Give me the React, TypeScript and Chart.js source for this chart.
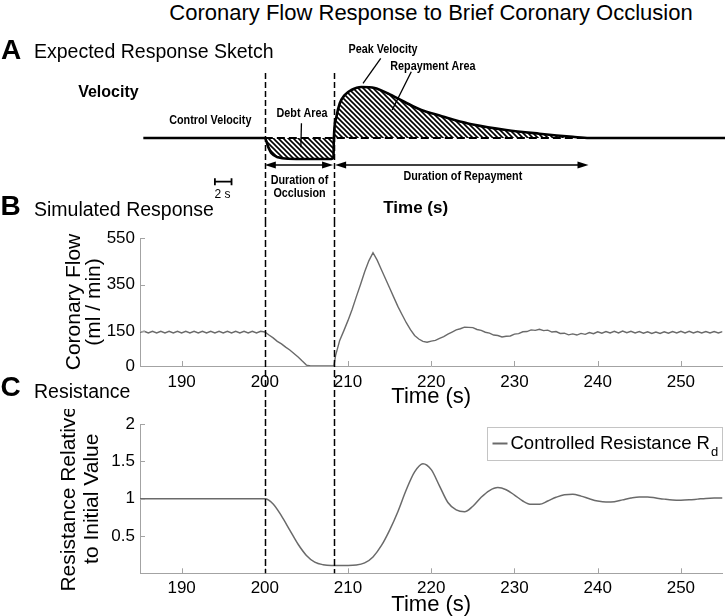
import React, { useEffect, useRef } from 'react';
import { Chart, registerables } from 'chart.js';

Chart.register(...registerables);

const FONT = "'Liberation Sans', Arial, Helvetica, sans-serif";
const AXIS_COLOR = '#a3a3a3';
const LINE_COLOR = '#6a6a6a';

// ---------- shared time axis ----------
const timeMin = 185;
const timeMax = 255;
const timeTicks = [190, 200, 210, 220, 230, 240, 250];
const occlusionTimes = [200, 208.3];

// ---------- panel A: expected response sketch ----------
const sketchTimes = [185.4, 200, 200.4, 200.8, 201.6, 202.8, 208.0, 208.25, 208.3, 208.6, 209.0, 209.6, 210.4, 211.6, 213.2, 214.8, 216.8, 218.8, 221.0, 222.8, 225.0, 229.0, 233.0, 237.0, 239.0, 255.3];
const sketchValues = [0, 0, -8.7, -15.3, -19.3, -20.7, -21, -18.7, 0, 21, 34.5, 43, 48, 51, 50, 44.5, 36, 28, 22.5, 18, 13.5, 8, 4.3, 1.2, 0, 0];
const controlBaselineSpan = [200, 239];
const occlusionSpan = [200, 208.2];
const repaymentSpan = [208.45, 238.9];
const scaleBarSpan = [194, 196];

// ---------- panel B: simulated coronary flow ----------
const flowTimes = [
  185, 185.5, 186, 186.5, 187, 187.5, 188, 188.5, 189, 189.5,
  190, 190.5, 191, 191.5, 192, 192.5, 193, 193.5, 194, 194.5,
  195, 195.5, 196, 196.5, 197, 197.5, 198, 198.5, 199, 199.5,
  200, 200.5, 201, 201.5, 202, 202.5, 203, 203.5, 204, 204.5,
  205, 205.5, 206, 206.5, 207, 207.5, 208, 208.3, 208.5, 209,
  209.5, 210, 210.5, 211, 211.5, 212, 212.5, 213, 213.5, 214,
  214.5, 215, 215.5, 216, 216.5, 217, 217.5, 218, 218.5, 219,
  219.5, 220, 220.5, 221, 221.5, 222, 222.5, 223, 223.5, 224,
  224.5, 225, 225.5, 226, 226.5, 227, 227.5, 228, 228.5, 229,
  229.5, 230, 230.5, 231, 231.5, 232, 232.5, 233, 233.5, 234,
  234.5, 235, 235.5, 236, 236.5, 237, 237.5, 238, 238.5, 239,
  239.5, 240, 240.5, 241, 241.5, 242, 242.5, 243, 243.5, 244,
  244.5, 245, 245.5, 246, 246.5, 247, 247.5, 248, 248.5, 249,
  249.5, 250, 250.5, 251, 251.5, 252, 252.5, 253, 253.5, 254,
  254.5, 255
];
const flowValues = [
  145, 149, 142, 149, 142, 149, 142, 149, 142, 149,
  142, 149, 142, 149, 142, 149, 142, 149, 142, 149,
  142, 149, 142, 149, 142, 149, 142, 149, 142, 149,
  146, 133, 121, 106, 95, 81, 69, 54, 39, 21,
  4, 0, 0, 0, 0, 0, 0, 0, 45, 110,
  152, 196, 244, 298, 350, 405, 452, 487, 455, 415,
  375, 335, 295, 255, 220, 186, 156, 131, 116, 106,
  102, 107, 110, 119, 126, 137, 146, 155, 160, 167,
  166, 165, 157, 153, 145, 141, 133, 131, 125, 128,
  129, 137, 139, 147, 148, 155, 153, 158, 152, 154,
  146, 148, 140, 141, 134, 138, 133, 140, 136, 144,
  139, 147, 141, 148, 142, 149, 142, 150, 143, 149,
  142, 148, 141, 147, 140, 146, 140, 147, 141, 148,
  142, 149, 142, 149, 142, 148, 142, 148, 142, 148,
  142, 148
];
const flowTicks = [0, 150, 350, 550];
const flowMax = 550;

// ---------- panel C: controlled resistance ----------
const resTimes = [
  185, 186, 187, 188, 189, 190, 191, 192, 193, 194,
  195, 196, 197, 198, 199, 200, 201, 202, 203, 204,
  205, 206, 207, 208, 209, 210, 211, 212, 213, 214,
  215, 216, 217, 218, 219, 220, 221, 222, 223, 224,
  225, 226, 227, 228, 229, 230, 231, 232, 233, 234,
  235, 236, 237, 238, 239, 240, 241, 242, 243, 244,
  245, 246, 247, 248, 249, 250, 251, 252, 253, 254,
  255
];
const resValues = [
  1, 1, 1, 1, 1, 1, 1, 1, 1, 1,
  1, 1, 1, 1, 1, 1, 0.93, 0.77, 0.58, 0.39,
  0.24, 0.15, 0.115, 0.105, 0.105, 0.105, 0.11, 0.14, 0.22, 0.37,
  0.58, 0.83, 1.12, 1.36, 1.47, 1.39, 1.17, 0.95, 0.85, 0.825,
  0.9, 1.02, 1.11, 1.15, 1.12, 1.05, 0.97, 0.925, 0.925, 0.97,
  1.02, 1.055, 1.06, 1.035, 1.0, 0.97, 0.955, 0.96, 0.985, 1.01,
  1.025, 1.025, 1.01, 0.995, 0.983, 0.98, 0.985, 0.995, 1.005, 1.01,
  1.01
];
const resTicks = [0.5, 1, 1.5, 2];
const resMax = 2;
const legendLabel = 'Controlled Resistance R';
const legendSubscript = 'd';

// ---------- sketch annotations (data units of the sketch) ----------
const sketchDashTop = 65;
const arrowLevel = -27;
const scaleBarLevel = -43.7;
type SketchLabel = { text: string; t: number; v: number; size: number; weight: string; sx: number };
const sketchLabels: SketchLabel[] = [
  { text: 'Velocity', t: 181.2, v: 45.5, size: 16, weight: 'bold', sx: 1 },
  { text: 'Control Velocity', t: 193.45, v: 18, size: 13.5, weight: 'bold', sx: 0.8 },
  { text: 'Debt Area', t: 204.47, v: 25, size: 13.5, weight: 'bold', sx: 0.8 },
  { text: 'Peak Velocity', t: 214.2, v: 88.8, size: 13.5, weight: 'bold', sx: 0.8 },
  { text: 'Repayment Area', t: 220.2, v: 72.2, size: 13.5, weight: 'bold', sx: 0.8 },
  { text: 'Duration of', t: 204.17, v: -42.5, size: 13.5, weight: 'bold', sx: 0.8 },
  { text: 'Occlusion', t: 204.17, v: -55.5, size: 13.5, weight: 'bold', sx: 0.8 },
  { text: 'Duration of Repayment', t: 223.8, v: -38, size: 13.5, weight: 'bold', sx: 0.8 },
  { text: 'Time (s)', t: 218.13, v: -70, size: 17, weight: 'bold', sx: 1 },
  { text: '2 s', t: 194.9, v: -57, size: 12, weight: 'normal', sx: 1 },
];
const sketchPointers = [
  { from: [204.4, 14.7], to: [204.33, -9.3] },
  { from: [213.93, 79.7], to: [211.8, 54.7] },
  { from: [217.6, 66.3], to: [215.3, 28] },
];

function makeHatch(): CanvasPattern | string {
  const c = document.createElement('canvas');
  c.width = 5;
  c.height = 5;
  const g = c.getContext('2d');
  if (!g) return '#555';
  g.strokeStyle = '#000';
  g.lineWidth = 1.6;
  g.beginPath();
  g.moveTo(-1, -1); g.lineTo(6, 6);
  g.moveTo(-1, 4); g.lineTo(1, 6);
  g.moveTo(4, -1); g.lineTo(6, 1);
  g.stroke();
  return g.createPattern(c, 'repeat') || '#555';
}

function arrowHead(ctx: CanvasRenderingContext2D, x: number, y: number, dir: number) {
  ctx.beginPath();
  ctx.moveTo(x, y);
  ctx.lineTo(x - dir * 11, y - 3.5);
  ctx.lineTo(x - dir * 11, y + 3.5);
  ctx.closePath();
  ctx.fill();
}

const sketchPlugin = {
  id: 'sketchAnnotations',
  afterDraw(chart: any) {
    const { ctx, scales } = chart;
    const px = (t: number) => scales.x.getPixelForValue(t);
    const py = (v: number) => scales.y.getPixelForValue(v);
    ctx.save();
    ctx.strokeStyle = '#000';
    ctx.fillStyle = '#000';
    // occlusion guides
    ctx.setLineDash([6, 3]);
    ctx.lineWidth = 1.5;
    occlusionTimes.forEach((t) => {
      const x = Math.round(px(t)) + 0.5;
      ctx.beginPath();
      ctx.moveTo(x, py(sketchDashTop));
      ctx.lineTo(x, chart.height);
      ctx.stroke();
    });
    ctx.setLineDash([]);
    // duration arrows
    ctx.lineWidth = 1.5;
    [occlusionSpan, repaymentSpan].forEach(([a, b]) => {
      const y = py(arrowLevel);
      const x1 = px(a);
      const x2 = px(b);
      ctx.beginPath();
      ctx.moveTo(x1 + 5, y);
      ctx.lineTo(x2 - 5, y);
      ctx.stroke();
      arrowHead(ctx, x1, y, -1);
      arrowHead(ctx, x2, y, 1);
    });
    // pointers
    ctx.lineWidth = 1.3;
    sketchPointers.forEach((p) => {
      ctx.beginPath();
      ctx.moveTo(px(p.from[0]), py(p.from[1]));
      ctx.lineTo(px(p.to[0]), py(p.to[1]));
      ctx.stroke();
    });
    // scale bar
    {
      const y = py(scaleBarLevel);
      const x1 = px(scaleBarSpan[0]);
      const x2 = px(scaleBarSpan[1]);
      ctx.lineWidth = 1.8;
      ctx.beginPath();
      ctx.moveTo(x1, y); ctx.lineTo(x2, y);
      ctx.moveTo(x1, y - 3.5); ctx.lineTo(x1, y + 3.5);
      ctx.moveTo(x2, y - 3.5); ctx.lineTo(x2, y + 3.5);
      ctx.stroke();
    }
    // labels
    sketchLabels.forEach((l) => {
      ctx.save();
      ctx.font = `${l.weight} ${l.size}px ${FONT}`;
      ctx.translate(px(l.t), py(l.v));
      ctx.scale(l.sx, 1);
      ctx.textAlign = 'center';
      ctx.textBaseline = 'middle';
      ctx.fillText(l.text, 0, 0);
      ctx.restore();
    });
    ctx.restore();
  },
};

function makeGuidePlugin(stopAtChartBottom: boolean) {
  return {
    id: 'guides',
    afterDraw(chart: any) {
      const { ctx, chartArea, scales } = chart;
      const { x, y } = scales;
      ctx.save();
      // inward tick marks
      ctx.strokeStyle = AXIS_COLOR;
      ctx.lineWidth = 1;
      x.ticks.forEach((tk: any) => {
        const p = Math.round(x.getPixelForValue(tk.value)) + 0.5;
        ctx.beginPath();
        ctx.moveTo(p, chartArea.bottom);
        ctx.lineTo(p, chartArea.bottom - 5);
        ctx.stroke();
      });
      y.ticks.forEach((tk: any) => {
        const p = Math.round(y.getPixelForValue(tk.value)) + 0.5;
        ctx.beginPath();
        ctx.moveTo(chartArea.left, p);
        ctx.lineTo(chartArea.left + 5, p);
        ctx.stroke();
      });
      // occlusion guides
      ctx.strokeStyle = '#000';
      ctx.lineWidth = 1.5;
      ctx.setLineDash([7, 3]);
      occlusionTimes.forEach((t) => {
        const p = Math.round(x.getPixelForValue(t)) + 0.5;
        ctx.beginPath();
        ctx.moveTo(p, 0);
        ctx.lineTo(p, stopAtChartBottom ? chartArea.bottom : chart.height);
        ctx.stroke();
      });
      ctx.restore();
    },
  };
}

const legendPlugin = {
  id: 'resLegend',
  afterDraw(chart: any) {
    const { ctx, chartArea } = chart;
    const ds = chart.data.datasets[0];
    const w = 235;
    const h = 33;
    const right = chartArea.right - 0.5;
    const left = Math.round(right - w) + 0.5;
    const top = Math.round(chartArea.top + 3) + 0.5;
    ctx.save();
    ctx.fillStyle = '#fff';
    ctx.fillRect(left, top, w, h);
    ctx.strokeStyle = '#c4c4c4';
    ctx.lineWidth = 1;
    ctx.strokeRect(left, top, w, h);
    ctx.strokeStyle = ds.borderColor;
    ctx.lineWidth = 2;
    ctx.beginPath();
    ctx.moveTo(left + 5, top + 16);
    ctx.lineTo(left + 20, top + 16);
    ctx.stroke();
    ctx.fillStyle = '#000';
    ctx.textBaseline = 'alphabetic';
    ctx.textAlign = 'left';
    ctx.font = `18.5px ${FONT}`;
    ctx.fillText(ds.label, left + 23, top + 21.5);
    const tw = ctx.measureText(ds.label).width;
    ctx.font = `13px ${FONT}`;
    ctx.fillText(legendSubscript, left + 24 + tw, top + 28.5);
    ctx.restore();
  },
};

function xScale(labelPadding: number, height: number) {
  return {
    type: 'linear',
    position: 'bottom',
    min: timeMin,
    max: timeMax,
    afterBuildTicks: (s: any) => { s.ticks = timeTicks.map((v) => ({ value: v })); },
    afterFit: (s: any) => { s.height = height; },
    grid: { display: false, drawTicks: false },
    border: { display: true, color: AXIS_COLOR, width: 1 },
    ticks: { color: '#000', font: { size: 17, family: FONT }, padding: labelPadding, maxRotation: 0, autoSkip: false, callback: (v: any) => String(v) },
    title: { display: true, text: 'Time (s)', color: '#000', font: { size: 22, family: FONT, lineHeight: 1 }, padding: 0 },
  };
}

function yScale(max: number, ticks: number[], title: string[], titlePad: number, titleLH: number) {
  return {
    type: 'linear',
    min: 0,
    max,
    afterBuildTicks: (s: any) => { s.ticks = ticks.map((v) => ({ value: v })); },
    afterFit: (s: any) => { s.width = 140; },
    grid: { display: false, drawTicks: false },
    border: { display: true, color: AXIS_COLOR, width: 1 },
    ticks: { color: '#000', font: { size: 17, family: FONT }, padding: 5, callback: (v: any) => String(v) },
    title: { display: true, text: title, color: '#000', font: { size: 21, family: FONT, lineHeight: titleLH }, padding: { top: titlePad, bottom: 0 } },
  };
}

const baseOptions = {
  animation: false,
  responsive: false,
  maintainAspectRatio: false,
  events: [],
  plugins: { legend: { display: false }, tooltip: { enabled: false } },
};

export default function App() {
  const aRef = useRef<HTMLCanvasElement>(null);
  const bRef = useRef<HTMLCanvasElement>(null);
  const cRef = useRef<HTMLCanvasElement>(null);

  useEffect(() => {
    const charts: Chart[] = [];
    const hatch = makeHatch();

    if (aRef.current) {
      charts.push(new Chart(aRef.current, {
        type: 'line',
        data: {
          datasets: [
            {
              label: 'Control level',
              data: controlBaselineSpan.map((t) => ({ x: t, y: 0 })),
              borderColor: '#000',
              borderWidth: 2.2,
              borderDash: [8, 4],
              pointRadius: 0,
              fill: false,
            },
            {
              label: 'Velocity',
              data: sketchTimes.map((t, i) => ({ x: t, y: sketchValues[i] })),
              borderColor: '#000',
              borderWidth: 2.6,
              pointRadius: 0,
              cubicInterpolationMode: 'monotone',
              clip: false,
              fill: { target: { value: 0 }, above: hatch, below: hatch },
            },
          ],
        },
        options: {
          ...baseOptions,
          layout: { padding: { left: 140, right: 2.5, top: 48, bottom: 52 } },
          scales: {
            x: { type: 'linear', min: timeMin, max: timeMax, display: false },
            y: { type: 'linear', min: -30, max: 60, display: false },
          },
        } as any,
        plugins: [sketchPlugin],
      } as any));
    }

    if (bRef.current) {
      charts.push(new Chart(bRef.current, {
        type: 'line',
        data: {
          datasets: [{
            label: 'Coronary Flow',
            data: flowTimes.map((t, i) => ({ x: t, y: flowValues[i] })),
            borderColor: LINE_COLOR,
            borderWidth: 1.4,
            pointRadius: 0,
            tension: 0,
            fill: false,
          }],
        },
        options: {
          ...baseOptions,
          layout: { padding: { left: 0, right: 2.5, top: 18, bottom: 1 } },
          scales: {
            x: xScale(6, 42),
            y: yScale(flowMax, flowTicks, ['Coronary Flow', '(ml / min)'], 64, 0.95),
          },
        } as any,
        plugins: [makeGuidePlugin(false)],
      } as any));
    }

    if (cRef.current) {
      charts.push(new Chart(cRef.current, {
        type: 'line',
        data: {
          datasets: [{
            label: legendLabel,
            data: resTimes.map((t, i) => ({ x: t, y: resValues[i] })),
            borderColor: LINE_COLOR,
            borderWidth: 1.5,
            pointRadius: 0,
            cubicInterpolationMode: 'monotone',
            fill: false,
          }],
        },
        options: {
          ...baseOptions,
          layout: { padding: { left: 0, right: 2.5, top: 15, bottom: 0 } },
          scales: {
            x: xScale(5, 42.7),
            y: yScale(resMax, resTicks, ['Resistance Relative', 'to Initial Value'], 58, 1.1),
          },
        } as any,
        plugins: [legendPlugin, makeGuidePlugin(true)],
      } as any));
    }

    return () => charts.forEach((c) => c.destroy());
  }, []);

  const text = (content: string, left: number, top: number, size: number, bold = false, extra: React.CSSProperties = {}) => (
    <div style={{ position: 'absolute', left, top, fontSize: size, lineHeight: `${size}px`, fontWeight: bold ? 'bold' : 'normal', whiteSpace: 'nowrap', ...extra }}>{content}</div>
  );

  return (
    <div style={{ position: 'fixed', left: 0, top: 0, width: 725, height: 616, background: '#fff', color: '#000', fontFamily: FONT, overflow: 'hidden' }}>
      <canvas ref={aRef} width={725} height={190} style={{ position: 'absolute', left: 0, top: 30, width: 725, height: 190 }} />
      <canvas ref={bRef} width={725} height={189} style={{ position: 'absolute', left: 0, top: 220, width: 725, height: 189 }} />
      <canvas ref={cRef} width={725} height={207} style={{ position: 'absolute', left: 0, top: 409, width: 725, height: 207 }} />
      {text('Coronary Flow Response to Brief Coronary Occlusion', 431, 2, 22, false, { transform: 'translateX(-50%)' })}
      {text('A', 1, 36.3, 28, true)}
      {text('Expected Response Sketch', 34, 41.5, 19.5)}
      {text('B', 0.5, 192.3, 28, true)}
      {text('Simulated Response', 34, 199.5, 19.5)}
      {text('C', 0.5, 373.3, 28, true)}
      {text('Resistance', 34, 381.5, 19.5)}
    </div>
  );
}
